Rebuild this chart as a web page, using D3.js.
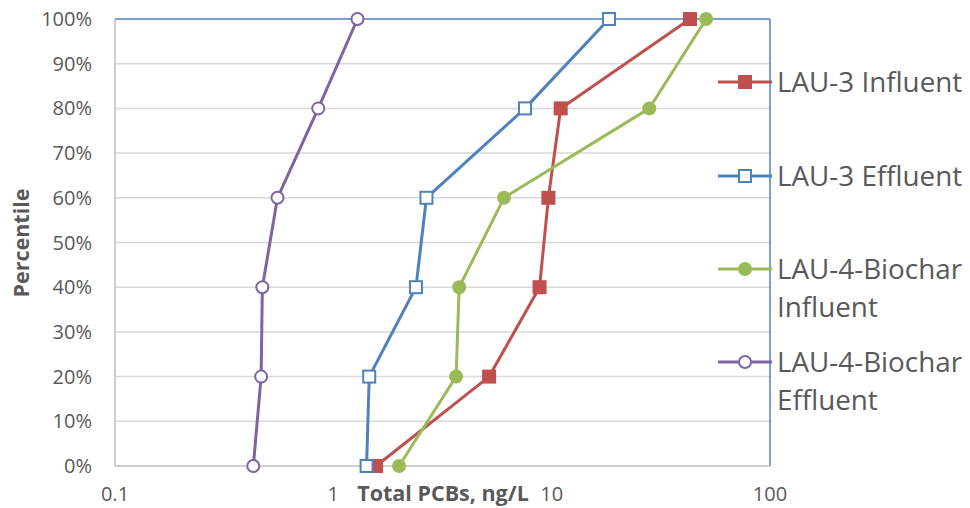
<!DOCTYPE html>
<html><head><meta charset="utf-8">
<script src="https://cdn.jsdelivr.net/npm/d3@7"></script>
<style>body{margin:0;background:#fff}svg{display:block}text{font-family:"Open Sans",sans-serif}</style>
</head><body><svg id="c" width="970" height="508"></svg>
<script>
const percentiles = [0, 20, 40, 60, 80, 100];
const lau3Influent = [1.57, 5.17, 8.8, 9.66, 11.0, 43.0];
const lau3Effluent = [1.42, 1.46, 2.39, 2.67, 7.55, 18.3];
const lau4Influent = [2.0, 3.65, 3.77, 6.05, 28.0, 51.0];
const lau4Effluent = [0.43, 0.467, 0.473, 0.555, 0.853, 1.29];
const seriesNames = ["LAU-3 Influent", "LAU-3 Effluent", "LAU-4-Biochar Influent", "LAU-4-Biochar Effluent"];
const xTicks = [0.1, 1, 10, 100];
const yTicks = [0, 10, 20, 30, 40, 50, 60, 70, 80, 90, 100];

const series = [
  {name: seriesNames[0], values: lau3Influent, color: "#c0504d", marker: "square", fill: true},
  {name: seriesNames[1], values: lau3Effluent, color: "#4f81bd", marker: "square", fill: false},
  {name: seriesNames[2], values: lau4Influent, color: "#9bbb59", marker: "circle", fill: true},
  {name: seriesNames[3], values: lau4Effluent, color: "#8064a2", marker: "circle", fill: false}
];

const svg = d3.select("#c");
const L = 115, R = 770, T = 19, B = 466;
const x = d3.scaleLog().domain([0.1, 100]).range([L, R]);
const y = d3.scaleLinear().domain([0, 100]).range([B, T]);

// gridlines
svg.append("g").selectAll("line").data(yTicks.filter(d => d > 0 && d < 100)).join("line")
  .attr("x1", L).attr("x2", R).attr("y1", d => y(d)).attr("y2", d => y(d))
  .attr("stroke", "#d9d9d9").attr("stroke-width", 1.5);

// borders
svg.append("line").attr("x1", L).attr("x2", R).attr("y1", T).attr("y2", T).attr("stroke", "#4f81bd").attr("stroke-width", 1.5);
svg.append("line").attr("x1", R).attr("x2", R).attr("y1", T).attr("y2", B).attr("stroke", "#4f81bd").attr("stroke-width", 1.5);
svg.append("line").attr("x1", L).attr("x2", L).attr("y1", T).attr("y2", B).attr("stroke", "#bfbfbf").attr("stroke-width", 1.5);
svg.append("line").attr("x1", L).attr("x2", R).attr("y1", B).attr("y2", B).attr("stroke", "#bfbfbf").attr("stroke-width", 1.5);

// y tick labels
svg.append("g").selectAll("text").data(yTicks).join("text")
  .attr("x", 92).attr("y", d => y(d)).attr("dy", "0.35em").attr("text-anchor", "end")
  .attr("font-size", 20).attr("fill", "#595959").text(d => d + "%");

// x tick labels
svg.append("g").selectAll("text").data(xTicks).join("text")
  .attr("x", d => x(d)).attr("y", 501).attr("text-anchor", "middle")
  .attr("font-size", 20).attr("fill", "#595959").text(d => String(d));

// axis titles
svg.append("text").attr("x", 443).attr("y", 501).attr("text-anchor", "middle")
  .attr("font-size", 21.5).attr("font-weight", "bold").attr("fill", "#595959").text("Total PCBs, ng/L");
svg.append("text").attr("transform", "translate(21,243) rotate(-90)").attr("dy", "0.35em").attr("text-anchor", "middle")
  .attr("font-size", 21.5).attr("font-weight", "bold").attr("fill", "#595959").text("Percentile");

const line = d3.line().x(d => x(d[0])).y(d => y(d[1]));

function drawMarker(g, s, cx, cy, scale) {
  if (s.marker === "square") {
    const sz = (s.fill ? 14 : 12) * scale;
    g.append("rect").attr("x", cx - sz / 2).attr("y", cy - sz / 2).attr("width", sz).attr("height", sz)
      .attr("fill", s.fill ? s.color : "#fff").attr("stroke", s.color).attr("stroke-width", s.fill ? 0 : 2);
  } else {
    const r = 7 * scale;
    g.append("circle").attr("cx", cx).attr("cy", cy).attr("r", s.fill ? r : r - 1)
      .attr("fill", s.fill ? s.color : "#fff").attr("stroke", s.color).attr("stroke-width", s.fill ? 0 : 2);
  }
}

series.forEach(s => {
  const pts = s.values.map((v, i) => [v, percentiles[i]]);
  const g = svg.append("g");
  g.append("path").attr("d", line(pts)).attr("fill", "none").attr("stroke", s.color).attr("stroke-width", 3).attr("stroke-linejoin", "round");
  pts.forEach(p => drawMarker(g, s, x(p[0]), y(p[1]), 1));
});

// legend
const legY = [82, 176, 269, 362];
const legLines = [["LAU-3 Influent"], ["LAU-3 Effluent"], ["LAU-4-Biochar", "Influent"], ["LAU-4-Biochar", "Effluent"]];
series.forEach((s, i) => {
  const g = svg.append("g");
  g.append("line").attr("x1", 718).attr("x2", 772).attr("y1", legY[i]).attr("y2", legY[i]).attr("stroke", s.color).attr("stroke-width", 3);
  drawMarker(g, s, 745, legY[i], 1);
  legLines[i].forEach((t, j) => {
    g.append("text").attr("x", 777).attr("y", legY[i] + j * 38).attr("dy", "0.35em")
      .attr("font-size", 27.8).attr("fill", "#595959").text(t);
  });
});
</script></body></html>
